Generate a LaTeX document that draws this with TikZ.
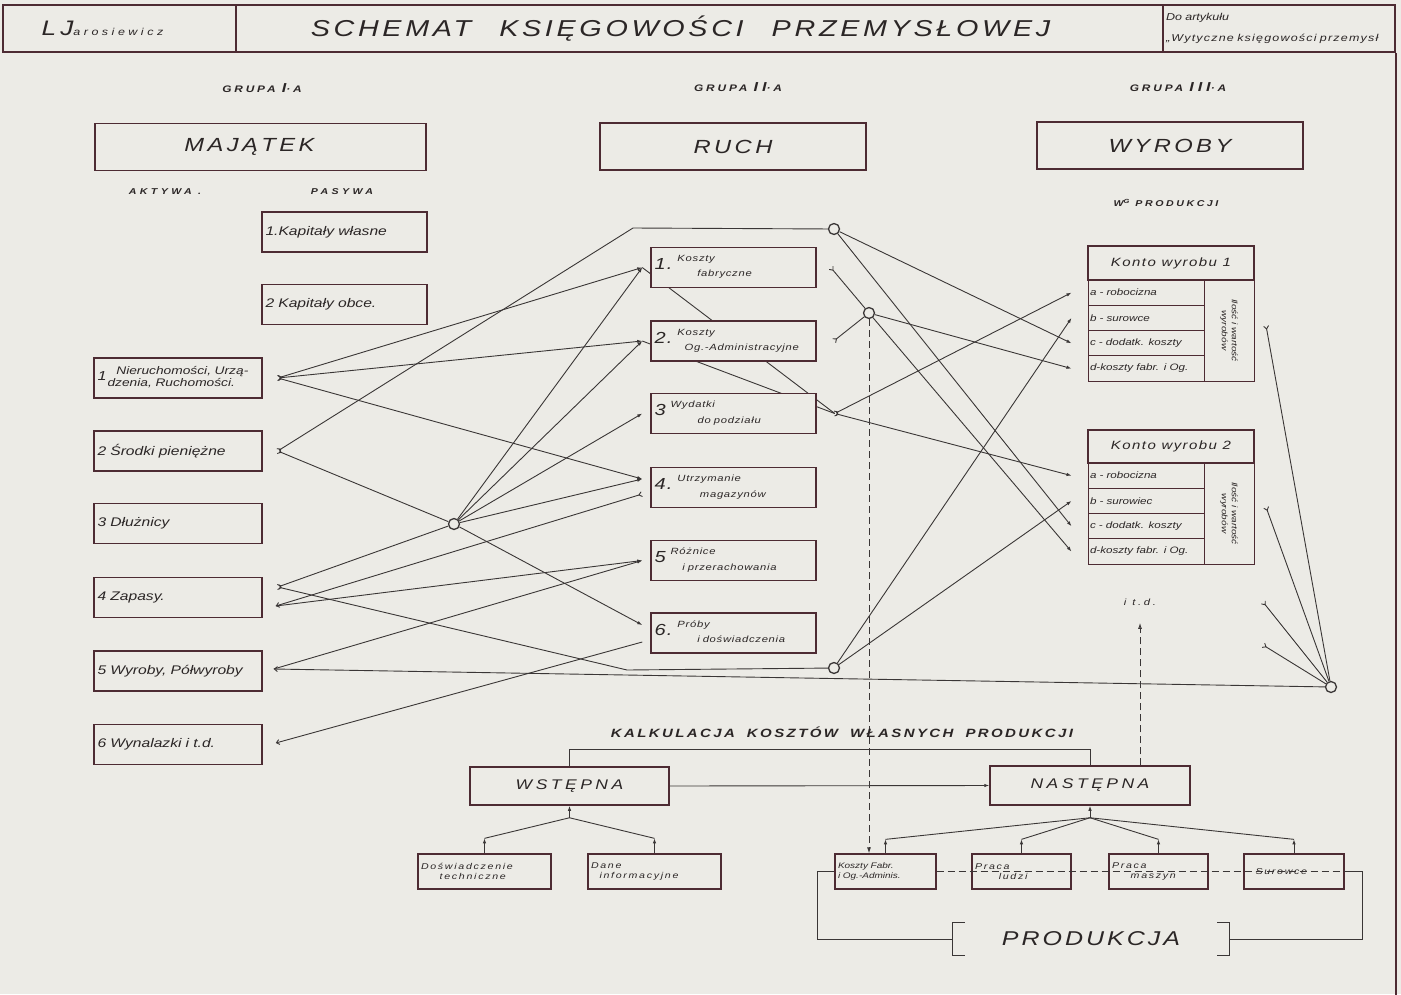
\documentclass[tikz,border=0pt]{standalone}
\usepackage{fontspec}
\newfontfamily\pismo[FakeStretch=1.25]{Liberation Sans}
\usetikzlibrary{arrows.meta}
\definecolor{tlo}{HTML}{ECEBE6}
\definecolor{ramka}{HTML}{4D2B33}
\definecolor{linia}{HTML}{3A3636}
\definecolor{tekst}{HTML}{2B2626}
\pgfdeclarelayer{spod}
\pgfdeclarelayer{linie}
\pgfsetlayers{spod,linie,main}
\newcommand{\poz}[4]{{\fontsize{16}{16}\selectfont #1}\hspace{5pt}\begin{tabular}[c]{@{}l@{}}#3\\[6pt]\hspace*{#2}#4\end{tabular}}

\begin{document}
\begin{tikzpicture}[x=1pt,y=-1pt,
  pole/.style={draw=ramka,line width=1.5pt,fill=tlo,inner sep=3pt,text=tekst},
  duze/.style={pole,minimum height=47pt,font=\pismo\itshape\fontsize{19}{20}\selectfont\addfontfeature{LetterSpace=18}},
  lewe/.style={pole,minimum width=168pt,minimum height=40pt,text width=161pt,align=left,font=\pismo\itshape\fontsize{12.5}{13}\selectfont},
  srod/.style={pole,minimum width=165pt,minimum height=40pt,text width=158pt,align=left,font=\pismo\itshape\fontsize{9}{9}\selectfont\addfontfeature{LetterSpace=8}},
  naglowek/.style={pole,line width=1.2pt,minimum width=166pt,minimum height=34pt,font=\pismo\itshape\fontsize{12}{12}\selectfont\addfontfeature{LetterSpace=12}},
  wiersz/.style={pole,line width=1pt,minimum width=116pt,minimum height=25.3pt,text width=112pt,inner sep=2pt,align=left,font=\pismo\itshape\fontsize{9.3}{10}\selectfont},
  kolumna/.style={pole,line width=1pt,rotate=-90,minimum width=101pt,minimum height=50pt,align=center,inner sep=1pt,font=\pismo\itshape\fontsize{8}{10}\selectfont},
  dol/.style={pole,line width=1.3pt,minimum height=35pt,align=left,font=\pismo\itshape\fontsize{8.5}{9.5}\selectfont\addfontfeature{LetterSpace=20}},
  grupa/.style={text=tekst,font=\pismo\itshape\bfseries\fontsize{9.5}{10}\selectfont\addfontfeature{LetterSpace=30}},
  kolo/.style={circle,draw=linia,line width=1.3pt,fill=tlo,minimum size=11pt,inner sep=0pt},
  lin/.style={draw=linia,line width=0.9pt},
  wy/.style={lin,{Straight Barb[reversed,length=3pt,width=5pt]}-},
  we/.style={lin,-{Latex[length=5pt,width=3.5pt]}},
  wywe/.style={lin,{Straight Barb[reversed,length=3pt,width=5pt]}-{Latex[length=5pt,width=3.5pt]}},
  doaktyw/.style={lin,-{Straight Barb[length=3pt,width=5pt]}},
  kreski/.style={lin,dash pattern=on 7pt off 4pt},
]
\useasboundingbox (0,0) rectangle (1401,994);
\begin{pgfonlayer}{spod}
\fill[tlo] (0,0) rectangle (1401,994);
\end{pgfonlayer}
%Nagłówek
\node[pole,minimum width=233pt,minimum height=47pt,font=\pismo\itshape] (nagA) at (119.5,28.5) {{\fontsize{21}{21}\selectfont L\hspace{4pt}J}{\fontsize{10}{10}\selectfont\addfontfeature{LetterSpace=35}arosiewicz}\hspace{34pt}\mbox{}};
\node[pole,minimum width=927pt,minimum height=47pt,font=\pismo\itshape\fontsize{23}{23}\selectfont\addfontfeature{LetterSpace=16}] (nagB) at (699.5,28.5) {SCHEMAT\hspace{28pt}KSIĘGOWOŚCI\hspace{28pt}PRZEMYSŁOWEJ\hspace{38pt}\mbox{}};
\node[pole,minimum width=232pt,minimum height=47pt,text width=226pt,align=left,font=\pismo\itshape\fontsize{10}{21}\selectfont] (nagC) at (1279,28.5) {Do artykułu\\{\addfontfeature{LetterSpace=12}„Wytyczne księgowości przemysł}};
\draw[draw=ramka,line width=1.5pt] (nagC.south east) -- ++(0,942);
%Grupy
\node[grupa] (g1) at (262,88) {GRUPA {\fontsize{13}{13}\selectfont I}·A};
\node[grupa] (g2) at (738,87) {GRUPA {\fontsize{13}{13}\selectfont II}·A};
\node[grupa] (g3) at (1178,87) {GRUPA {\fontsize{13}{13}\selectfont III}·A};
\node[duze,minimum width=331pt] (MAJ) at (260.5,147) {MAJĄTEK\hspace{22pt}\mbox{}};
\node[duze,minimum width=266pt] (RUCH) at (733,146.5) {RUCH};
\node[duze,minimum width=266pt] (WYR) at (1170,145.5) {WYROBY};
\node[grupa,font=\pismo\itshape\bfseries\fontsize{8.5}{9}\selectfont\addfontfeature{LetterSpace=40}] (akt) at (165,192) {AKTYWA .};
\node[grupa,font=\pismo\itshape\bfseries\fontsize{8.5}{9}\selectfont\addfontfeature{LetterSpace=40}] (pas) at (342,192) {PASYWA};
\node[grupa,font=\pismo\itshape\bfseries\fontsize{8.5}{9}\selectfont\addfontfeature{LetterSpace=30}] (wgp) at (1166,203) {W\textsuperscript{G} PRODUKCJI};
%Majątek
\node[lewe,minimum width=165pt,text width=158pt] (P1) at (344.5,232) {1.Kapitały własne};
\node[lewe,minimum width=165pt,text width=158pt] (P2) at (344.5,304.5) {2 Kapitały obce.};
\node[lewe,font=\pismo\itshape\fontsize{11}{12.5}\selectfont] (A1) at (178,378) {{\fontsize{13}{13}\selectfont 1}\hspace{1pt}\begin{tabular}[c]{@{}l@{}}\hspace*{0.8em}Nieruchomości, Urzą-\\dzenia, Ruchomości.\end{tabular}};
\node[lewe] (A2) at (178,451) {2 Środki pieniężne};
\node[lewe] (A3) at (178,523.5) {3 Dłużnicy};
\node[lewe] (A4) at (178,597.5) {4 Zapasy.};
\node[lewe] (A5) at (178,671) {5 Wyroby, Półwyroby};
\node[lewe] (A6) at (178,744.5) {6 Wynalazki i t.d.};
%Ruch
\node[srod] (M1) at (733.5,267.5) {\poz{1.}{2.2em}{Koszty}{fabryczne}};
\node[srod] (M2) at (733.5,341) {\poz{2.}{0.8em}{Koszty}{Og.-Administracyjne}};
\node[srod] (M3) at (733.5,413.5) {\poz{3}{3em}{Wydatki}{do podziału}};
\node[srod] (M4) at (733.5,487.5) {\poz{4.}{2.5em}{Utrzymanie}{magazynów}};
\node[srod] (M5) at (733.5,560.5) {\poz{5}{1.3em}{Różnice}{i przerachowania}};
\node[srod] (M6) at (733.5,633) {\poz{6.}{2.2em}{Próby}{i doświadczenia}};
%Wyroby
\node[naglowek] (K1) at (1171,263) {Konto wyrobu 1};
\node[wiersz] (K1a) at (1146,292.65) {a - robocizna};
\node[wiersz] (K1b) at (1146,317.95) {b - surowce};
\node[wiersz] (K1c) at (1146,343.25) {c - dodatk. koszty};
\node[wiersz] (K1d) at (1146,368.55) {d-koszty fabr. i Og.};
\node[kolumna] (K1w) at (1229,330.5) {Ilość i wartość\\wyrobów};
\node[naglowek,minimum height=33pt] (K2) at (1171,446.5) {Konto wyrobu 2};
\node[wiersz] (K2a) at (1146,475.65) {a - robocizna};
\node[wiersz] (K2b) at (1146,500.95) {b - surowiec};
\node[wiersz] (K2c) at (1146,526.25) {c - dodatk. koszty};
\node[wiersz] (K2d) at (1146,551.55) {d-koszty fabr. i Og.};
\node[kolumna] (K2w) at (1229,513.5) {Ilość i wartość\\wyrobów};
\node[text=tekst,font=\pismo\itshape\fontsize{9}{9}\selectfont\addfontfeature{LetterSpace=30}] (itd) at (1140,602) {i t.d.};
%Kalkulacja
\node[grupa,font=\pismo\itshape\bfseries\fontsize{12}{12}\selectfont\addfontfeature{LetterSpace=20}] (KAL) at (842,732) {KALKULACJA\hspace{12pt}KOSZTÓW\hspace{12pt}WŁASNYCH\hspace{12pt}PRODUKCJI};
\node[duze,minimum width=199pt,minimum height=38pt,font=\pismo\itshape\fontsize{14}{14}\selectfont\addfontfeature{LetterSpace=25}] (WST) at (569.5,786) {WSTĘPNA};
\node[duze,minimum width=200pt,minimum height=39pt,font=\pismo\itshape\fontsize{14}{14}\selectfont\addfontfeature{LetterSpace=25}] (NAS) at (1090,785.5) {NASTĘPNA};
\node[dol,minimum width=133pt,text width=127pt] (DOS) at (484.5,871.5) {Doświadczenie\\\hspace*{2.2em}techniczne};
\node[dol,minimum width=133pt,text width=127pt] (DANE) at (654.5,871.5) {Dane\\\hspace*{1em}informacyjne};
\node[dol,minimum width=101pt,text width=95pt,font=\pismo\itshape\fontsize{8}{9.5}\selectfont] (KOF) at (885.5,871.5) {Koszty Fabr.\\i Og.-Adminis.};
\node[dol,minimum width=99pt,text width=93pt] (PRL) at (1021.5,871.5) {Praca\\\hspace*{2.8em}ludzi};
\node[dol,minimum width=99pt,text width=93pt] (PRM) at (1158.5,871.5) {Praca\\\hspace*{2.2em}maszyn};
\node[dol,minimum width=100pt,text width=94pt] (SUR) at (1294,871.5) {\hspace*{1em}Surowce};
\node[text=tekst,minimum width=276pt,minimum height=32pt,font=\pismo\itshape\fontsize{20}{20}\selectfont\addfontfeature{LetterSpace=15}] (PROD) at (1091,939) {PRODUKCJA};
\draw[lin,line width=1.2pt] ([xshift=12]PROD.north west) -- (PROD.north west) -- (PROD.south west) -- ++(12,0);
\draw[lin,line width=1.2pt] ([xshift=-12]PROD.north east) -- (PROD.north east) -- (PROD.south east) -- ++(-12,0);
%Węzły zbiorcze
\node[kolo] (C1) at (454,524) {};
\node[kolo] (R1) at (834,229) {};
\node[kolo] (R2) at (869,313) {};
\node[kolo] (R3) at (834,668) {};
\node[kolo] (R4) at (1331,687) {};
%Punkty przyłączenia
\coordinate (A1o) at ([xshift=15]A1.east);
\coordinate (A2o) at ([xshift=15]A2.east);
\coordinate (A4a) at ([xshift=15,yshift=10.5]A4.east);
\coordinate (A4b) at ([xshift=13,yshift=-8.5]A4.east);
\coordinate (A5o) at ([xshift=11,yshift=2]A5.east);
\coordinate (A6o) at ([xshift=13,yshift=1.5]A6.east);
\coordinate (M1l) at ([xshift=-8]M1.west);
\coordinate (M2l) at ([xshift=-8]M2.west);
\coordinate (M3l) at ([xshift=-8]M3.west);
\coordinate (M4a) at ([xshift=-8,yshift=8.5]M4.west);
\coordinate (M4b) at ([xshift=-8,yshift=-6.5]M4.west);
\coordinate (M5l) at ([xshift=-8]M5.west);
\coordinate (M6a) at ([xshift=-8,yshift=8]M6.west);
\coordinate (M6b) at ([xshift=-8,yshift=-9]M6.west);
\coordinate (M1r) at ([xshift=14]M1.east);
\coordinate (M2r) at ([xshift=17]M2.east);
\coordinate (M3r) at ([xshift=18]M3.east);
\coordinate (K1a-l) at ([xshift=-16]K1a.west);
\coordinate (K1b-l) at ([xshift=-16]K1b.west);
\coordinate (K1c-l) at ([xshift=-16]K1c.west);
\coordinate (K1d-l) at ([xshift=-16]K1d.west);
\coordinate (K2a-l) at ([xshift=-16]K2a.west);
\coordinate (K2b-l) at ([xshift=-16]K2b.west);
\coordinate (K2c-l) at ([xshift=-16]K2c.west);
\coordinate (K2d-l) at ([xshift=-16]K2d.west);
\coordinate (K1r) at ([xshift=37,yshift=5]K1w.center);
\coordinate (K2r) at ([xshift=37,yshift=6.5]K2w.center);
\coordinate (I1) at (1263,602);
\coordinate (I2) at (1263,645);
\coordinate (T1) at (633,228);
\coordinate (T3) at (627,670);
\coordinate (J1) at ([yshift=-12]WST.south);
\coordinate (J2) at ([yshift=-12]NAS.south);
%Powiązania
\begin{pgfonlayer}{linie}
\draw[wywe] (A1o) -- (M1l);
\draw[wywe] (A1o) -- (M2l);
\draw[wywe] (A1o) -- (M4a);
\draw[wy] (A2o) -- (T1) -- (R1);
\draw[wy] (A2o) -- (C1);
\draw[we] (C1) -- (M1l);
\draw[we] (C1) -- (M2l);
\draw[we] (C1) -- (M3l);
\draw[we] (C1) -- (M4a);
\draw[we] (C1) -- (M6a);
\draw[wy] (A4a) -- (C1);
\draw[wy] (A4a) -- (T3) -- (R3);
\draw[lin,{Straight Barb[reversed,length=3pt,width=5pt]}-{Straight Barb[length=3pt,width=5pt]}] (M4b) -- (A4b);
\draw[we] (A4b) -- (M5l);
\draw[we] (A5o) -- (M5l);
\draw[doaktyw] (R4) -- (A5o);
\draw[doaktyw] (M6b) -- (A6o);
\draw[lin] (M1l) -- (M3r);
\draw[lin] (M2l) -- (M3r);
\draw[wy] (M1r) -- (R2);
\draw[wy] (M2r) -- (R2);
\draw[wywe] (M3r) -- (K1a-l);
\draw[wywe] (M3r) -- (K2a-l);
\draw[we] (R1) -- (K1c-l);
\draw[we] (R1) -- (K2c-l);
\draw[we] (R2) -- (K1d-l);
\draw[we] (R2) -- (K2d-l);
\draw[we] (R3) -- (K1b-l);
\draw[we] (R3) -- (K2b-l);
\draw[wy] (K1r) -- (R4);
\draw[wy] (K2r) -- (R4);
\draw[wy] (I1) -- (R4);
\draw[wy] (I2) -- (R4);
%Kalkulacja
\draw[kreski,-{Latex[length=6pt,width=4pt]}] (R2) -- (R2 |- KOF.north);
\draw[kreski,-{Latex[open,length=6pt,width=4pt]}] (itd |- NAS.north) -- ([yshift=-14]itd.south);
\draw[lin] (WST.north) -- ++(0,-17) -| (NAS.north);
\draw[we] (WST.east) -- (NAS.west);
\draw[we] (J1) -- (WST.south);
\draw[lin] (J1) -- ([yshift=15]DOS.north);
\draw[lin] (J1) -- ([yshift=15]DANE.north);
\draw[we] (DOS.north) -- ([yshift=15]DOS.north);
\draw[we] (DANE.north) -- ([yshift=15]DANE.north);
\draw[we] (J2) -- (NAS.south);
\draw[lin] (J2) -- ([yshift=14]KOF.north);
\draw[lin] (J2) -- ([yshift=14]PRL.north);
\draw[lin] (J2) -- ([yshift=14]PRM.north);
\draw[lin] (J2) -- ([yshift=14]SUR.north);
\draw[we] (KOF.north) -- ([yshift=14]KOF.north);
\draw[we] (PRL.north) -- ([yshift=14]PRL.north);
\draw[we] (PRM.north) -- ([yshift=14]PRM.north);
\draw[we] (SUR.north) -- ([yshift=14]SUR.north);
\draw[lin] (KOF.west) -- ++(-17,0) |- (PROD.west);
\draw[lin] (PROD.east) -| ([xshift=18]SUR.east) -- (SUR.east);
\end{pgfonlayer}
\draw[kreski] (KOF.east) -- ([xshift=18]SUR.east);
\end{tikzpicture}
\end{document}
